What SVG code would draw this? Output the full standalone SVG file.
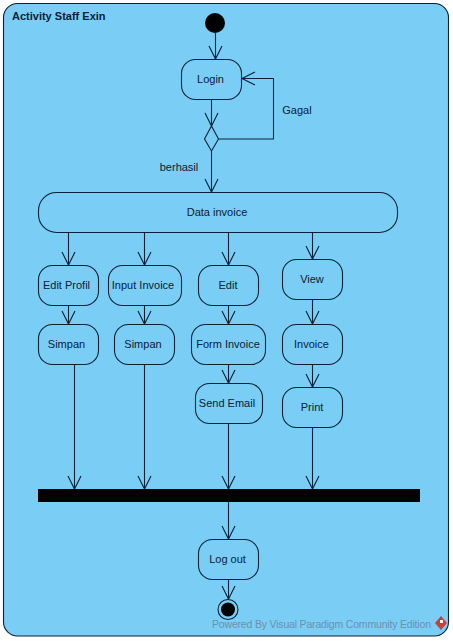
<svg xmlns="http://www.w3.org/2000/svg" width="453" height="641" viewBox="0 0 453 641">
<style>
.n{fill:#7acdf5;stroke:#0a2238;stroke-width:1.1}
.t{font:11px "Liberation Sans",Arial,sans-serif;fill:#0a2238;text-anchor:middle}
.c{fill:none;stroke:#0a2238;stroke-width:1.1}
</style>
<defs>
<marker id="a" markerUnits="userSpaceOnUse" markerWidth="16" markerHeight="16" refX="13" refY="7" orient="auto" overflow="visible"><path d="M0 0.500L13 7L0 13.500" fill="none" stroke="#0a2238" stroke-width="1.1"/></marker>
</defs>
<rect width="453" height="641" fill="#fff"/>
<g id="frame"><rect class="n" x="3.500" y="3.500" width="445" height="632.500" rx="14"/>
<text x="12" y="20" style="font:bold 11px 'Liberation Sans',Arial,sans-serif;fill:#0a2238">Activity Staff Exin</text></g>
<g id="connectors" class="c">
<path d="M215.500 33V59" marker-end="url(#a)"/>
<path d="M211.500 99.500V126" marker-end="url(#a)"/>
<path d="M218.500 139H273.500V78.500H242" marker-end="url(#a)"/>
<path d="M211.500 151V192" marker-end="url(#a)"/>
<path d="M68.500 232.500V265" marker-end="url(#a)"/>
<path d="M144.500 232.500V265" marker-end="url(#a)"/>
<path d="M228.500 232.500V265" marker-end="url(#a)"/>
<path d="M312.500 232.500V259" marker-end="url(#a)"/>
<path d="M68.500 305.500V324" marker-end="url(#a)"/>
<path d="M144.500 305.500V324" marker-end="url(#a)"/>
<path d="M228.500 305.500V324" marker-end="url(#a)"/>
<path d="M312.500 299.500V324" marker-end="url(#a)"/>
<path d="M228.500 364.500V383" marker-end="url(#a)"/>
<path d="M312.500 364.500V387" marker-end="url(#a)"/>
<path d="M74.500 364.500V489" marker-end="url(#a)"/>
<path d="M144.500 364.500V489" marker-end="url(#a)"/>
<path d="M228.500 423.500V489" marker-end="url(#a)"/>
<path d="M312.500 427.500V489" marker-end="url(#a)"/>
<path d="M228.500 502V539" marker-end="url(#a)"/>
<path d="M228.500 579.500V599" marker-end="url(#a)"/>
</g>
<text class="t" x="297" y="114">Gagal</text>
<text class="t" x="179" y="171">berhasil</text>
<g id="start"><circle cx="215" cy="23" r="10" fill="#000"/></g>
<g id="login"><rect class="n" x="181.500" y="59.500" width="60" height="40" rx="14"/><text class="t" x="210.500" y="83">Login</text></g>
<g id="decision"><path class="n" d="M211.500 126L218.500 139L211.500 151L204.500 139Z"/></g>
<g id="data-invoice"><rect class="n" x="38.500" y="192.500" width="359" height="40" rx="18"/><text class="t" x="217" y="216">Data invoice</text></g>
<g id="edit-profil"><rect class="n" x="38.500" y="265.500" width="60" height="40" rx="14"/><text class="t" x="66.500" y="289">Edit Profil</text></g>
<g id="input-invoice"><rect class="n" x="108.500" y="265.500" width="73" height="40" rx="14"/><text class="t" x="143" y="289">Input Invoice</text></g>
<g id="edit"><rect class="n" x="198.500" y="265.500" width="60" height="40" rx="14"/><text class="t" x="228" y="289">Edit</text></g>
<g id="view"><rect class="n" x="282.500" y="259.500" width="60" height="40" rx="14"/><text class="t" x="312" y="283">View</text></g>
<g id="simpan1"><rect class="n" x="38.500" y="324.500" width="60" height="40" rx="14"/><text class="t" x="66.500" y="348">Simpan</text></g>
<g id="simpan2"><rect class="n" x="114.500" y="324.500" width="60" height="40" rx="14"/><text class="t" x="143" y="348">Simpan</text></g>
<g id="form-invoice"><rect class="n" x="191.500" y="324.500" width="74" height="40" rx="14"/><text class="t" x="228" y="348">Form Invoice</text></g>
<g id="invoice"><rect class="n" x="282.500" y="324.500" width="60" height="40" rx="14"/><text class="t" x="311.500" y="348">Invoice</text></g>
<g id="send-email"><rect class="n" x="195.500" y="383.500" width="67" height="40" rx="14"/><text class="t" x="227" y="407">Send Email</text></g>
<g id="print"><rect class="n" x="282.500" y="387.500" width="60" height="40" rx="14"/><text class="t" x="312" y="411">Print</text></g>
<g id="bar"><rect x="38" y="489" width="382" height="13" fill="#000"/></g>
<g id="log-out"><rect class="n" x="198.500" y="539.500" width="60" height="40" rx="14"/><text class="t" x="227.500" y="563">Log out</text></g>
<g id="end"><circle class="n" cx="228" cy="609.500" r="10"/><circle cx="228" cy="609.500" r="7" fill="#000"/></g>
<g id="watermark"><text x="212" y="628" textLength="219" lengthAdjust="spacing" style="font:10.500px 'Liberation Sans',Arial,sans-serif;fill:#6f8fae">Powered By Visual Paradigm Community Edition</text>
<path d="M441 616L447 623L441 630L435 623Z" fill="#c8403a"/><path d="M440 620h3v3h-3z" fill="#fff"/></g>
</svg>
